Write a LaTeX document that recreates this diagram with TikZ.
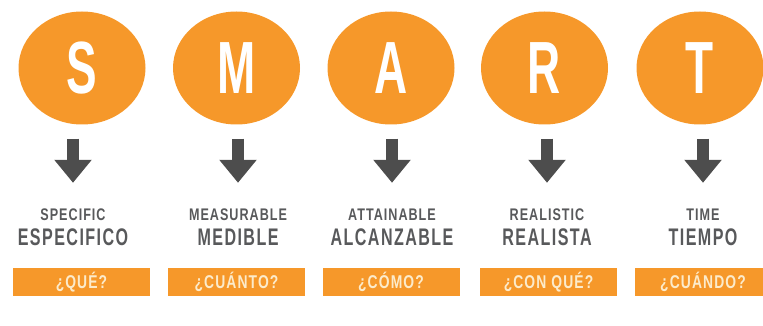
\documentclass[tikz,border=0pt]{standalone}
\usepackage{fontspec}
\setmainfont{Liberation Sans}
\newfontfamily\lettercond[FakeStretch=0.62]{Liberation Sans}
\newfontfamily\labelcond[FakeStretch=0.67,LetterSpace=6]{Liberation Sans}
\newfontfamily\smallcond[FakeStretch=0.75,LetterSpace=6]{Liberation Sans}
\usetikzlibrary{arrows.meta,positioning}
\usetikzlibrary{shapes.geometric}
\definecolor{smart_orange}{HTML}{F6982A}
\definecolor{smart_grey}{HTML}{58595B}
\definecolor{smart_arrow}{HTML}{4D4D4D}
\definecolor{smart_cream}{HTML}{FCEBCB}

\begin{document}
\begin{tikzpicture}[
        x=1pt, y=-1pt,
        letter/.style={ellipse, fill=smart_orange, minimum width=127pt, minimum height=113pt, inner sep=0pt, text=white, font=\lettercond\bfseries\fontsize{74}{74}\selectfont},
        enlabel/.style={inner sep=0pt, text height=12pt, text depth=0pt, text=smart_grey, font=\smallcond\bfseries\fontsize{16.8}{17}\selectfont},
        eslabel/.style={inner sep=0pt, text height=17.2pt, text depth=0pt, text=smart_grey, font=\labelcond\bfseries\fontsize{24}{24}\selectfont},
        question/.style={rectangle, fill=smart_orange, minimum width=137pt, minimum height=28pt, inner sep=0pt, text height=12.9pt, text depth=0pt, text=smart_cream, font=\smallcond\bfseries\fontsize{18.5}{18.5}\selectfont},
        downarrow/.style={line width=12pt, smart_arrow, -{Triangle[width=36pt, length=23pt]}, shorten <=14pt, shorten >=25pt},
    ]
    \useasboundingbox (0,0) rectangle (763,326);

    % Letters
    \node[letter] (ls) at (82, 68) {S};
    \node[letter] (lm) at (236.5, 68) {M};
    \node[letter] (la) at (391, 68) {A};
    \node[letter] (lr) at (544.5, 68) {R};
    \node[letter] (lt) at (700, 68) {T};

    % English / Spanish names
    \node[enlabel] (ens) at (73, 214) {SPECIFIC};
    \node[eslabel, below=8pt of ens] (ess) {ESPECIFICO};
    \node[enlabel] (enm) at (238, 214) {MEASURABLE};
    \node[eslabel, below=8pt of enm] (esm) {MEDIBLE};
    \node[enlabel] (ena) at (392, 214) {ATTAINABLE};
    \node[eslabel, below=8pt of ena] (esa) {ALCANZABLE};
    \node[enlabel] (enr) at (547, 214) {REALISTIC};
    \node[eslabel, below=8pt of enr] (esr) {REALISTA};
    \node[enlabel] (ent) at (703, 214) {TIME};
    \node[eslabel, below=8pt of ent] (est) {TIEMPO};

    % Questions
    \node[question] (qs) at (81.5, 282) {¿QUÉ?};
    \node[question] (qm) at (236.5, 282) {¿CUÁNTO?};
    \node[question] (qa) at (391, 282) {¿CÓMO?};
    \node[question] (qr) at (548.5, 282) {¿CON QUÉ?};
    \node[question] (qt) at (703, 282) {¿CUÁNDO?};

    % arrows
    \draw [downarrow] (ls.south -| ens.north) -- (ens.north);
    \draw [downarrow] (lm.south -| enm.north) -- (enm.north);
    \draw [downarrow] (la.south -| ena.north) -- (ena.north);
    \draw [downarrow] (lr.south -| enr.north) -- (enr.north);
    \draw [downarrow] (lt.south -| ent.north) -- (ent.north);

\end{tikzpicture}
\end{document}
